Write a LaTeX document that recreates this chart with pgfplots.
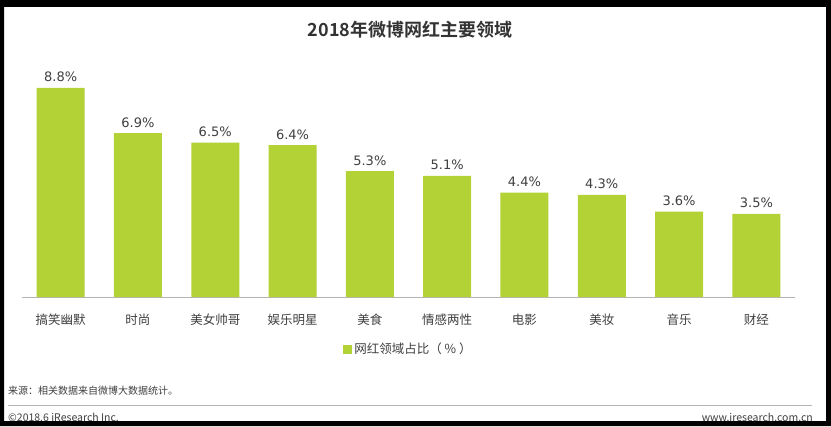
\documentclass[border=0pt]{standalone}
\usepackage{pgfplots}
\pgfplotsset{compat=1.18}
\usepackage{fontspec}
\setmainfont{DejaVu Sans}
\newfontfamily\cjk[BoldFont={Noto Sans CJK SC Bold}]{Noto Sans CJK SC}
\newfontfamily\dv{DejaVu Sans}
\definecolor{bargreen}{RGB}{178,210,53}
\definecolor{txtgray}{RGB}{64,64,64}
\definecolor{linegray}{RGB}{180,180,180}
\begin{document}
\begin{tikzpicture}[x=1bp,y=1bp]
\fill[white] (0,0) rectangle (831,426);
\begin{axis}[
  scale only axis,
  width=773bp, height=237.5bp,
  at={(22bp,129bp)}, anchor=south west,
  xmin=-0.5, xmax=9.5, ymin=0, ymax=10,
  axis x line*=bottom,
  axis y line=none,
  x axis line style={linegray, line width=1pt, -},
  xtick=data,
  major tick length=0pt,
  xticklabels={搞笑幽默,时尚,美女帅哥,娱乐明星,美食,情感两性,电影,美妆,音乐,财经},
  xticklabel style={font=\cjk\fontsize{12.5bp}{14bp}\selectfont, text=txtgray, anchor=center, yshift=-23bp},
  ybar, bar width=48bp,
  clip=false,
  nodes near coords={\pgfmathprintnumber[fixed,fixed zerofill,precision=1,assume math mode=true]{\pgfplotspointmeta}\%},
  nodes near coords style={font=\dv\fontsize{13bp}{15bp}\selectfont, text=txtgray, anchor=base, yshift=6bp, inner sep=0pt},
  legend style={at={(0.5,-0.219)}, anchor=center, draw=none, fill=none,
    font=\cjk\fontsize{12.5bp}{14bp}\selectfont, text=txtgray, inner sep=0pt},
  legend image code/.code={\fill[bargreen] (0bp,-4.5bp) rectangle (9bp,4.5bp);},
  legend cell align=left,
]
\addplot[fill=bargreen, draw=none] coordinates {
(0,8.8) (1,6.9) (2,6.5) (3,6.4) (4,5.3) (5,5.1) (6,4.4) (7,4.3) (8,3.6) (9,3.5)};
\legend{网红领域占比（ \% ）}
\end{axis}
\node[font=\cjk\bfseries\fontsize{18bp}{21bp}\selectfont, text={rgb,255:red,51;green,51;blue,51}] at (410,396) {2018年微博网红主要领域};
\node[anchor=west, font=\cjk\fontsize{10bp}{12bp}\selectfont, text=txtgray, inner sep=0pt] at (8,35) {来源：相关数据来自微博大数据统计。};
\draw[linegray, line width=0.8pt] (8,21) -- (812,21);
\node[anchor=west, font=\cjk\fontsize{10.5bp}{12bp}\selectfont, text=txtgray, inner sep=0pt] at (8,9) {©2018.6 iResearch Inc.};
\node[anchor=east, font=\cjk\fontsize{10.5bp}{12bp}\selectfont, text=txtgray, inner sep=0pt] at (813,9) {www.iresearch.com.cn};
\fill[black, even odd rule] (0,0) rectangle (831,426) (4,5) rectangle (826,419);
\pgfresetboundingbox
\useasboundingbox (0,0) rectangle (831,426);
\end{tikzpicture}
\end{document}
